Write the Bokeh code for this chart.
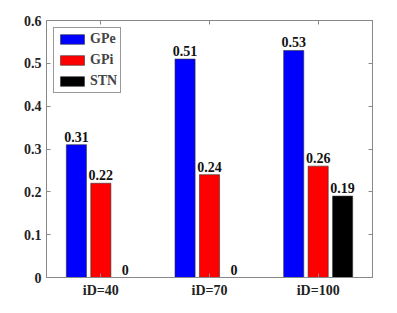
from bokeh.plotting import figure
from bokeh.models import (FactorRange, ColumnDataSource, LinearAxis, Range1d, Legend, LegendItem,
                          FixedTicker, CategoricalAxis)
from bokeh.transform import dodge
from bokeh.core.properties import value
from bokeh.embed import file_html
from bokeh.resources import INLINE

categories = ["iD=40", "iD=70", "iD=100"]
gpe = [0.31, 0.51, 0.53]
gpi = [0.22, 0.24, 0.26]
stn = [0.0, 0.0, 0.19]
series_names = ["GPe", "GPi", "STN"]
colors = ["#0000ff", "#ff0000", "#000000"]
yticks = [0, 0.1, 0.2, 0.3, 0.4, 0.5, 0.6]

FONT = "Liberation Serif"
FS = "14px"

p = figure(x_range=FactorRange(factors=categories, range_padding=0),
           y_range=Range1d(0, 0.6),
           width=389, height=305, output_backend="svg", toolbar_location=None,
           min_border_left=46, min_border_right=17, min_border_top=20, min_border_bottom=28)

def lab(v):
    return f"{v:.2f}" if v else "0"

src = ColumnDataSource(dict(cat=categories, GPe=gpe, GPi=gpi, STN=stn,
                            GPe_l=[lab(v) for v in gpe],
                            GPi_l=[lab(v) for v in gpi],
                            STN_l=[lab(v) for v in stn]))

offsets = [-0.225, 0.0, 0.225]
renderers = []
for name, col, off in zip(series_names, colors, offsets):
    r = p.vbar(x=dodge("cat", off, range=p.x_range), top=name, width=0.185, source=src,
               fill_color=col, line_color="#333333", line_width=0.6)
    renderers.append(r)
    p.text(x=dodge("cat", off, range=p.x_range), y=name, text=name + "_l", source=src,
           text_align="center", text_baseline="bottom", y_offset=-3,
           text_font=value(FONT), text_font_style="bold", text_font_size=FS,
           text_color="#111111")

p.xgrid.visible = False
p.ygrid.visible = False
p.outline_line_color = "#888888"
p.outline_line_width = 1

for ax in (p.xaxis[0], p.yaxis[0]):
    ax.major_label_text_font = FONT
    ax.major_label_text_font_style = "bold"
    ax.major_label_text_font_size = FS
    ax.major_label_text_color = "#222222"
    ax.axis_line_color = "#888888"
    ax.major_tick_line_color = "#888888"
    ax.major_tick_in = 4
    ax.major_tick_out = 0
    ax.minor_tick_line_color = None

p.yaxis[0].ticker = FixedTicker(ticks=yticks)
p.yaxis[0].major_label_overrides = {0: "0", 0.1: "0.1", 0.2: "0.2", 0.3: "0.3",
                                    0.4: "0.4", 0.5: "0.5", 0.6: "0.6"}
p.yaxis[0].major_label_standoff = 5
p.xaxis[0].major_label_standoff = 5

ra = LinearAxis(ticker=FixedTicker(ticks=yticks),
                major_label_overrides={t: "" for t in yticks},
                major_tick_in=4, major_tick_out=0, axis_line_color="#888888",
                major_tick_line_color="#888888", minor_tick_line_color=None)
p.add_layout(ra, "right")

ta = CategoricalAxis(major_label_text_color=None,
                     major_tick_in=4, major_tick_out=0,
                     axis_line_color="#888888", major_tick_line_color="#888888")
p.add_layout(ta, "above")

legend = Legend(items=[LegendItem(label=n, renderers=[r]) for n, r in zip(series_names, renderers)],
                location="top_left",
                label_text_font=FONT, label_text_font_style="bold", label_text_font_size=FS,
                glyph_width=30, glyph_height=12, spacing=5, padding=3, margin=7,
                label_standoff=3, label_height=12,
                border_line_color="#333333", border_line_width=1)
p.add_layout(legend)

open("out.html", "w").write(file_html(p, INLINE))
